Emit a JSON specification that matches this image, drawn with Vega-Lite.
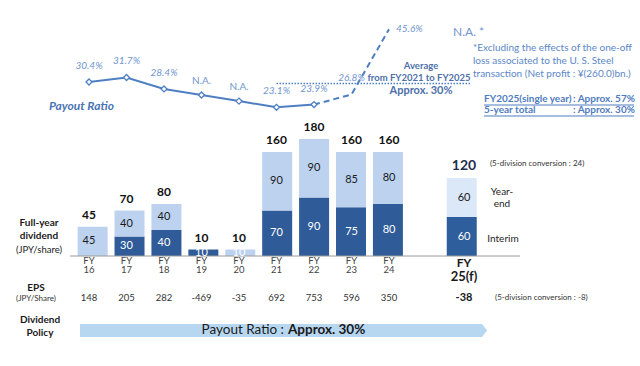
{
  "$schema": "https://vega.github.io/schema/vega-lite/v6.json",
  "width": 640,
  "height": 366,
  "autosize": {"type": "fit", "contains": "padding"},
  "padding": 0,
  "background": "white",
  "config": {"view": {"stroke": null}, "text": {"font": "Lato"}},
  "datasets": {
    "bars": [
      {"fy": "16", "slot": 0, "part": "Year-end", "v": 45},
      {"fy": "17", "slot": 1, "part": "Interim", "v": 30},
      {"fy": "17", "slot": 1, "part": "Year-end", "v": 40},
      {"fy": "18", "slot": 2, "part": "Interim", "v": 40},
      {"fy": "18", "slot": 2, "part": "Year-end", "v": 40},
      {"fy": "19", "slot": 3, "part": "Interim", "v": 10},
      {"fy": "20", "slot": 4, "part": "Year-end", "v": 10},
      {"fy": "21", "slot": 5, "part": "Interim", "v": 70},
      {"fy": "21", "slot": 5, "part": "Year-end", "v": 90},
      {"fy": "22", "slot": 6, "part": "Interim", "v": 90},
      {"fy": "22", "slot": 6, "part": "Year-end", "v": 90},
      {"fy": "23", "slot": 7, "part": "Interim", "v": 75},
      {"fy": "23", "slot": 7, "part": "Year-end", "v": 85},
      {"fy": "24", "slot": 8, "part": "Interim", "v": 80},
      {"fy": "24", "slot": 8, "part": "Year-end", "v": 80},
      {"fy": "25(f)", "slot": 10, "part": "Interim (f)", "v": 60},
      {"fy": "25(f)", "slot": 10, "part": "Year-end (f)", "v": 60}
    ],
    "eps": [
      {"fy": "16", "slot": 0, "eps": 148},
      {"fy": "17", "slot": 1, "eps": 205},
      {"fy": "18", "slot": 2, "eps": 282},
      {"fy": "19", "slot": 3, "eps": -469},
      {"fy": "20", "slot": 4, "eps": -35},
      {"fy": "21", "slot": 5, "eps": 692},
      {"fy": "22", "slot": 6, "eps": 753},
      {"fy": "23", "slot": 7, "eps": 596},
      {"fy": "24", "slot": 8, "eps": 350},
      {"fy": "25(f)", "slot": 10, "eps": -38}
    ],
    "pr": [
      {"fy": "16", "slot": 0, "plot": 30.4, "label": "30.4%"},
      {"fy": "17", "slot": 1, "plot": 31.7, "label": "31.7%"},
      {"fy": "18", "slot": 2, "plot": 28.4, "label": "28.4%"},
      {"fy": "19", "slot": 3, "plot": 26.65, "label": "N.A."},
      {"fy": "20", "slot": 4, "plot": 24.9, "label": "N.A."},
      {"fy": "21", "slot": 5, "plot": 23.1, "label": "23.1%"},
      {"fy": "22", "slot": 6, "plot": 23.9, "label": "23.9%"},
      {"fy": "23", "slot": 7, "plot": 26.8, "label": "26.8%"},
      {"fy": "24", "slot": 8, "plot": 45.6, "label": "45.6%"}
    ]
  },
  "resolve": {"scale": {"x": "independent", "y": "independent", "color": "independent"}},
  "layer": [
    {
      "data": {"values": [{"t": "Payout Ratio : Approx. 30%"}]},
      "mark": {"type": "rect", "color": "#b7d7f1"},
      "encoding": {
        "x": {"datum": -0.24, "type": "quantitative", "scale": {"domain": [-2.3733, 14.6933], "nice": false, "zero": false}, "axis": null},
        "x2": {"datum": 10.48},
        "y": {"datum": -104.6, "type": "quantitative", "scale": {"domain": [-169.23, 393.85], "nice": false, "zero": false}, "axis": null},
        "y2": {"datum": -124.6}
      }
    },
    {
      "data": {"values": [{"t": "tip"}]},
      "mark": {"type": "point", "shape": "M -0.4 -1 L 0 -1 L 0.8 0 L 0 1 L -0.4 1 Z", "filled": true, "color": "#b7d7f1", "opacity": 1, "size": 169},
      "encoding": {
        "x": {"datum": 10.48, "type": "quantitative", "scale": {"domain": [-2.3733, 14.6933], "nice": false, "zero": false}, "axis": null},
        "y": {"datum": -114.6, "type": "quantitative", "scale": {"domain": [-169.23, 393.85], "nice": false, "zero": false}, "axis": null}
      }
    },
    {
      "data": {"values": [{"t": "Payout Ratio :"}]},
      "mark": {"type": "text", "align": "right", "baseline": "middle", "fontSize": 13.5, "color": "#1a1a1a"},
      "encoding": {
        "text": {"field": "t"},
        "x": {"datum": 5.2, "type": "quantitative", "scale": {"domain": [-2.3733, 14.6933], "nice": false, "zero": false}, "axis": null},
        "y": {"datum": -113.8, "type": "quantitative", "scale": {"domain": [-169.23, 393.85], "nice": false, "zero": false}, "axis": null}
      }
    },
    {
      "data": {"values": [{"t": "Approx. 30%"}]},
      "mark": {"type": "text", "align": "left", "baseline": "middle", "fontSize": 13.5, "fontWeight": "bold", "color": "#1a1a1a"},
      "encoding": {
        "text": {"field": "t"},
        "x": {"datum": 5.307, "type": "quantitative", "scale": {"domain": [-2.3733, 14.6933], "nice": false, "zero": false}, "axis": null},
        "y": {"datum": -113.8, "type": "quantitative", "scale": {"domain": [-169.23, 393.85], "nice": false, "zero": false}, "axis": null}
      }
    },
    {
      "data": {"values": [{"t": "Dividend"}]},
      "mark": {"type": "text", "align": "center", "baseline": "middle", "fontSize": 10, "fontWeight": "bold", "color": "#1a1a1a"},
      "encoding": {
        "text": {"field": "t"},
        "x": {"datum": -1.307, "type": "quantitative", "scale": {"domain": [-2.3733, 14.6933], "nice": false, "zero": false}, "axis": null},
        "y": {"datum": -98.5, "type": "quantitative", "scale": {"domain": [-169.23, 393.85], "nice": false, "zero": false}, "axis": null}
      }
    },
    {
      "data": {"values": [{"t": "Policy"}]},
      "mark": {"type": "text", "align": "center", "baseline": "middle", "fontSize": 10, "fontWeight": "bold", "color": "#1a1a1a"},
      "encoding": {
        "text": {"field": "t"},
        "x": {"datum": -1.307, "type": "quantitative", "scale": {"domain": [-2.3733, 14.6933], "nice": false, "zero": false}, "axis": null},
        "y": {"datum": -118.5, "type": "quantitative", "scale": {"domain": [-169.23, 393.85], "nice": false, "zero": false}, "axis": null}
      }
    },
    {
      "data": {"values": [{"t": "EPS"}]},
      "mark": {"type": "text", "align": "center", "baseline": "middle", "fontSize": 10, "fontWeight": "bold", "color": "#1a1a1a"},
      "encoding": {
        "text": {"field": "t"},
        "x": {"datum": -1.413, "type": "quantitative", "scale": {"domain": [-2.3733, 14.6933], "nice": false, "zero": false}, "axis": null},
        "y": {"datum": -49.2, "type": "quantitative", "scale": {"domain": [-169.23, 393.85], "nice": false, "zero": false}, "axis": null}
      }
    },
    {
      "data": {"values": [{"t": "(JPY/Share)"}]},
      "mark": {"type": "text", "align": "center", "baseline": "middle", "fontSize": 8, "color": "#333333"},
      "encoding": {
        "text": {"field": "t"},
        "x": {"datum": -1.413, "type": "quantitative", "scale": {"domain": [-2.3733, 14.6933], "nice": false, "zero": false}, "axis": null},
        "y": {"datum": -66.2, "type": "quantitative", "scale": {"domain": [-169.23, 393.85], "nice": false, "zero": false}, "axis": null}
      }
    },
    {
      "data": {"name": "eps"},
      "transform": [{"filter": "datum.slot < 10"}],
      "mark": {"type": "text", "align": "center", "baseline": "middle", "fontSize": 9.5, "color": "#333333"},
      "encoding": {
        "text": {"field": "eps", "type": "nominal"},
        "x": {"field": "slot", "type": "quantitative", "scale": {"domain": [-2.3733, 14.6933], "nice": false, "zero": false}, "axis": null},
        "y": {"datum": -64.6, "type": "quantitative", "scale": {"domain": [-169.23, 393.85], "nice": false, "zero": false}, "axis": null}
      }
    },
    {
      "data": {"name": "eps"},
      "transform": [{"filter": "datum.slot == 10"}],
      "mark": {"type": "text", "align": "center", "baseline": "middle", "fontSize": 11, "fontWeight": "bold", "color": "#1a1a1a"},
      "encoding": {
        "text": {"field": "eps", "type": "nominal"},
        "x": {"field": "slot", "type": "quantitative", "scale": {"domain": [-2.3733, 14.6933], "nice": false, "zero": false}, "axis": null},
        "y": {"datum": -64.6, "type": "quantitative", "scale": {"domain": [-169.23, 393.85], "nice": false, "zero": false}, "axis": null}
      }
    },
    {
      "data": {"values": [{"t": "(5-division conversion : -8)"}]},
      "mark": {"type": "text", "align": "left", "baseline": "middle", "fontSize": 8, "color": "#333333"},
      "encoding": {
        "text": {"field": "t"},
        "x": {"datum": 10.827, "type": "quantitative", "scale": {"domain": [-2.3733, 14.6933], "nice": false, "zero": false}, "axis": null},
        "y": {"datum": -64.6, "type": "quantitative", "scale": {"domain": [-169.23, 393.85], "nice": false, "zero": false}, "axis": null}
      }
    },
    {
      "data": {"name": "bars"},
      "mark": {"type": "bar", "width": 30},
      "encoding": {
        "x": {"field": "slot", "type": "quantitative", "scale": {"domain": [-2.3733, 14.6933], "nice": false, "zero": false}, "axis": null},
        "y": {"field": "v", "type": "quantitative", "stack": "zero", "scale": {"domain": [-169.23, 393.85], "nice": false, "zero": false}, "axis": null},
        "color": {"field": "part", "type": "nominal", "legend": null, "scale": {"domain": ["Interim", "Year-end", "Interim (f)", "Year-end (f)"], "range": ["#2f5b98", "#bcd2ef", "#2f5e9c", "#dbe8f7"]}},
        "order": {"field": "part", "sort": "ascending"}
      }
    },
    {
      "data": {"values": [{"t": "baseline"}]},
      "mark": {"type": "rule", "color": "#9a9a9a", "strokeWidth": 1},
      "encoding": {
        "x": {"datum": -0.507, "type": "quantitative", "scale": {"domain": [-2.3733, 14.6933], "nice": false, "zero": false}, "axis": null},
        "x2": {"datum": 11.493},
        "y": {"datum": 0, "type": "quantitative", "scale": {"domain": [-169.23, 393.85], "nice": false, "zero": false}, "axis": null}
      }
    },
    {
      "data": {"name": "bars"},
      "transform": [
        {"stack": "v", "groupby": ["slot"], "sort": [{"field": "part", "order": "ascending"}], "as": ["v0", "v1"]},
        {"fold": ["v0", "v1"], "as": ["edge", "ev"]},
        {"aggregate": [{"op": "mean", "field": "ev", "as": "mid"}], "groupby": ["slot", "part", "v"]},
        {"filter": "indexof(datum.part, 'Interim') == 0 || datum.slot == 4"}
      ],
      "mark": {"type": "text", "align": "center", "baseline": "middle", "fontSize": 11, "color": "#ffffff"},
      "encoding": {
        "text": {"field": "v", "type": "nominal"},
        "x": {"field": "slot", "type": "quantitative", "scale": {"domain": [-2.3733, 14.6933], "nice": false, "zero": false}, "axis": null},
        "y": {"field": "mid", "type": "quantitative", "scale": {"domain": [-169.23, 393.85], "nice": false, "zero": false}, "axis": null}
      }
    },
    {
      "data": {"name": "bars"},
      "transform": [
        {"stack": "v", "groupby": ["slot"], "sort": [{"field": "part", "order": "ascending"}], "as": ["v0", "v1"]},
        {"fold": ["v0", "v1"], "as": ["edge", "ev"]},
        {"aggregate": [{"op": "mean", "field": "ev", "as": "mid"}], "groupby": ["slot", "part", "v"]},
        {"filter": "indexof(datum.part, 'Year-end') == 0 && datum.slot != 4"}
      ],
      "mark": {"type": "text", "align": "center", "baseline": "middle", "fontSize": 11, "color": "#1a1a1a"},
      "encoding": {
        "text": {"field": "v", "type": "nominal"},
        "x": {"field": "slot", "type": "quantitative", "scale": {"domain": [-2.3733, 14.6933], "nice": false, "zero": false}, "axis": null},
        "y": {"field": "mid", "type": "quantitative", "scale": {"domain": [-169.23, 393.85], "nice": false, "zero": false}, "axis": null}
      }
    },
    {
      "data": {"name": "bars"},
      "transform": [
        {"filter": "datum.slot < 10"},
        {"aggregate": [{"op": "sum", "field": "v", "as": "total"}], "groupby": ["slot"]}
      ],
      "mark": {"type": "text", "align": "center", "baseline": "middle", "fontSize": 12, "fontWeight": "bold", "color": "#111111", "dy": -12},
      "encoding": {
        "text": {"field": "total", "type": "nominal"},
        "x": {"field": "slot", "type": "quantitative", "scale": {"domain": [-2.3733, 14.6933], "nice": false, "zero": false}, "axis": null},
        "y": {"field": "total", "type": "quantitative", "scale": {"domain": [-169.23, 393.85], "nice": false, "zero": false}, "axis": null}
      }
    },
    {
      "data": {"name": "bars"},
      "transform": [
        {"filter": "datum.slot == 10"},
        {"aggregate": [{"op": "sum", "field": "v", "as": "total"}], "groupby": ["slot"]}
      ],
      "mark": {"type": "text", "align": "center", "baseline": "middle", "fontSize": 14, "fontWeight": "bold", "color": "#1f2d4d", "dy": -12},
      "encoding": {
        "text": {"field": "total", "type": "nominal"},
        "x": {"field": "slot", "type": "quantitative", "scale": {"domain": [-2.3733, 14.6933], "nice": false, "zero": false}, "axis": null},
        "y": {"field": "total", "type": "quantitative", "scale": {"domain": [-169.23, 393.85], "nice": false, "zero": false}, "axis": null}
      }
    },
    {
      "data": {"values": [{"t": "(5-division conversion : 24)"}]},
      "mark": {"type": "text", "align": "left", "baseline": "middle", "fontSize": 8, "color": "#333333"},
      "encoding": {
        "text": {"field": "t"},
        "x": {"datum": 10.693, "type": "quantitative", "scale": {"domain": [-2.3733, 14.6933], "nice": false, "zero": false}, "axis": null},
        "y": {"datum": 141.5, "type": "quantitative", "scale": {"domain": [-169.23, 393.85], "nice": false, "zero": false}, "axis": null}
      }
    },
    {
      "data": {"values": [{"t": "Year-"}]},
      "mark": {"type": "text", "align": "center", "baseline": "middle", "fontSize": 10, "color": "#222222"},
      "encoding": {
        "text": {"field": "t"},
        "x": {"datum": 11.013, "type": "quantitative", "scale": {"domain": [-2.3733, 14.6933], "nice": false, "zero": false}, "axis": null},
        "y": {"datum": 98.5, "type": "quantitative", "scale": {"domain": [-169.23, 393.85], "nice": false, "zero": false}, "axis": null}
      }
    },
    {
      "data": {"values": [{"t": "end"}]},
      "mark": {"type": "text", "align": "center", "baseline": "middle", "fontSize": 10, "color": "#222222"},
      "encoding": {
        "text": {"field": "t"},
        "x": {"datum": 11.013, "type": "quantitative", "scale": {"domain": [-2.3733, 14.6933], "nice": false, "zero": false}, "axis": null},
        "y": {"datum": 80.0, "type": "quantitative", "scale": {"domain": [-169.23, 393.85], "nice": false, "zero": false}, "axis": null}
      }
    },
    {
      "data": {"values": [{"t": "Interim"}]},
      "mark": {"type": "text", "align": "center", "baseline": "middle", "fontSize": 10, "color": "#222222"},
      "encoding": {
        "text": {"field": "t"},
        "x": {"datum": 11.04, "type": "quantitative", "scale": {"domain": [-2.3733, 14.6933], "nice": false, "zero": false}, "axis": null},
        "y": {"datum": 26.2, "type": "quantitative", "scale": {"domain": [-169.23, 393.85], "nice": false, "zero": false}, "axis": null}
      }
    },
    {
      "data": {"name": "eps"},
      "transform": [{"filter": "datum.slot < 10"}],
      "mark": {"type": "text", "text": "FY", "align": "center", "baseline": "middle", "fontSize": 9.5, "color": "#444444", "dy": 5},
      "encoding": {
        "x": {"field": "slot", "type": "quantitative", "scale": {"domain": [-2.3733, 14.6933], "nice": false, "zero": false}, "axis": null},
        "y": {"datum": 0, "type": "quantitative", "scale": {"domain": [-169.23, 393.85], "nice": false, "zero": false}, "axis": null}
      }
    },
    {
      "data": {"name": "eps"},
      "transform": [{"filter": "datum.slot < 10"}],
      "mark": {"type": "text", "align": "center", "baseline": "middle", "fontSize": 9.5, "color": "#444444", "dy": 14},
      "encoding": {
        "text": {"field": "fy", "type": "nominal"},
        "x": {"field": "slot", "type": "quantitative", "scale": {"domain": [-2.3733, 14.6933], "nice": false, "zero": false}, "axis": null},
        "y": {"datum": 0, "type": "quantitative", "scale": {"domain": [-169.23, 393.85], "nice": false, "zero": false}, "axis": null}
      }
    },
    {
      "data": {"name": "eps"},
      "transform": [{"filter": "datum.slot == 10"}],
      "mark": {"type": "text", "text": "FY", "align": "center", "baseline": "middle", "fontSize": 12, "fontWeight": "bold", "color": "#1a1a1a", "dy": 7},
      "encoding": {
        "x": {"field": "slot", "type": "quantitative", "scale": {"domain": [-2.3733, 14.6933], "nice": false, "zero": false}, "axis": null},
        "y": {"datum": 0, "type": "quantitative", "scale": {"domain": [-169.23, 393.85], "nice": false, "zero": false}, "axis": null}
      }
    },
    {
      "data": {"name": "eps"},
      "transform": [{"filter": "datum.slot == 10"}],
      "mark": {"type": "text", "align": "center", "baseline": "middle", "fontSize": 13, "fontWeight": "bold", "color": "#1a1a1a", "dy": 21},
      "encoding": {
        "text": {"field": "fy", "type": "nominal"},
        "x": {"field": "slot", "type": "quantitative", "scale": {"domain": [-2.3733, 14.6933], "nice": false, "zero": false}, "axis": null},
        "y": {"datum": 0, "type": "quantitative", "scale": {"domain": [-169.23, 393.85], "nice": false, "zero": false}, "axis": null}
      }
    },
    {
      "data": {"values": [{"t": "Full-year"}]},
      "mark": {"type": "text", "align": "center", "baseline": "middle", "fontSize": 10, "fontWeight": "bold", "color": "#1a1a1a"},
      "encoding": {
        "text": {"field": "t"},
        "x": {"datum": -1.333, "type": "quantitative", "scale": {"domain": [-2.3733, 14.6933], "nice": false, "zero": false}, "axis": null},
        "y": {"datum": 50.8, "type": "quantitative", "scale": {"domain": [-169.23, 393.85], "nice": false, "zero": false}, "axis": null}
      }
    },
    {
      "data": {"values": [{"t": "dividend"}]},
      "mark": {"type": "text", "align": "center", "baseline": "middle", "fontSize": 10, "fontWeight": "bold", "color": "#1a1a1a"},
      "encoding": {
        "text": {"field": "t"},
        "x": {"datum": -1.333, "type": "quantitative", "scale": {"domain": [-2.3733, 14.6933], "nice": false, "zero": false}, "axis": null},
        "y": {"datum": 30.8, "type": "quantitative", "scale": {"domain": [-169.23, 393.85], "nice": false, "zero": false}, "axis": null}
      }
    },
    {
      "data": {"values": [{"t": "(JPY/share)"}]},
      "mark": {"type": "text", "align": "center", "baseline": "middle", "fontSize": 9.5, "color": "#222222"},
      "encoding": {
        "text": {"field": "t"},
        "x": {"datum": -1.333, "type": "quantitative", "scale": {"domain": [-2.3733, 14.6933], "nice": false, "zero": false}, "axis": null},
        "y": {"datum": 9.2, "type": "quantitative", "scale": {"domain": [-169.23, 393.85], "nice": false, "zero": false}, "axis": null}
      }
    },
    {
      "data": {"values": [{"t": "average"}]},
      "mark": {"type": "rule", "color": "#4f7fc3", "strokeWidth": 1.5, "strokeDash": [1.5, 1.5]},
      "encoding": {
        "x": {"datum": 5.0, "type": "quantitative", "scale": {"domain": [-2.3733, 14.6933], "nice": false, "zero": false}, "axis": null},
        "x2": {"datum": 10.2},
        "y": {"datum": 30, "type": "quantitative", "scale": {"domain": [-51.44, 54.03], "nice": false, "zero": false}, "axis": null}
      }
    },
    {
      "data": {"name": "pr"},
      "transform": [{"filter": "datum.slot <= 6"}],
      "mark": {"type": "line", "color": "#4f7fc3", "strokeWidth": 2},
      "encoding": {
        "x": {"field": "slot", "type": "quantitative", "scale": {"domain": [-2.3733, 14.6933], "nice": false, "zero": false}, "axis": null},
        "y": {"field": "plot", "type": "quantitative", "scale": {"domain": [-51.44, 54.03], "nice": false, "zero": false}, "axis": null}
      }
    },
    {
      "data": {"name": "pr"},
      "transform": [{"filter": "datum.slot >= 6"}],
      "mark": {"type": "line", "color": "#4f7fc3", "strokeWidth": 2, "strokeDash": [6, 4]},
      "encoding": {
        "x": {"field": "slot", "type": "quantitative", "scale": {"domain": [-2.3733, 14.6933], "nice": false, "zero": false}, "axis": null},
        "y": {"field": "plot", "type": "quantitative", "scale": {"domain": [-51.44, 54.03], "nice": false, "zero": false}, "axis": null}
      }
    },
    {
      "data": {"name": "pr"},
      "transform": [{"filter": "datum.slot <= 6"}],
      "mark": {"type": "point", "shape": "diamond", "filled": true, "fill": "white", "stroke": "#4f7fc3", "strokeWidth": 1.3, "size": 36, "opacity": 1},
      "encoding": {
        "x": {"field": "slot", "type": "quantitative", "scale": {"domain": [-2.3733, 14.6933], "nice": false, "zero": false}, "axis": null},
        "y": {"field": "plot", "type": "quantitative", "scale": {"domain": [-51.44, 54.03], "nice": false, "zero": false}, "axis": null}
      }
    },
    {
      "data": {"name": "pr"},
      "transform": [{"filter": "datum.slot <= 7 && datum.label != 'N.A.'"}],
      "mark": {"type": "text", "align": "center", "baseline": "middle", "fontSize": 10, "fontStyle": "italic", "color": "#7094cd", "dy": -16},
      "encoding": {
        "text": {"field": "label", "type": "nominal"},
        "x": {"field": "slot", "type": "quantitative", "scale": {"domain": [-2.3733, 14.6933], "nice": false, "zero": false}, "axis": null},
        "y": {"field": "plot", "type": "quantitative", "scale": {"domain": [-51.44, 54.03], "nice": false, "zero": false}, "axis": null}
      }
    },
    {
      "data": {"name": "pr"},
      "transform": [{"filter": "datum.label == 'N.A.'"}],
      "mark": {"type": "text", "align": "center", "baseline": "middle", "fontSize": 10, "color": "#7094cd", "dy": -14},
      "encoding": {
        "text": {"field": "label", "type": "nominal"},
        "x": {"field": "slot", "type": "quantitative", "scale": {"domain": [-2.3733, 14.6933], "nice": false, "zero": false}, "axis": null},
        "y": {"field": "plot", "type": "quantitative", "scale": {"domain": [-51.44, 54.03], "nice": false, "zero": false}, "axis": null}
      }
    },
    {
      "data": {"name": "pr"},
      "transform": [{"filter": "datum.slot == 8"}],
      "mark": {"type": "text", "align": "left", "baseline": "middle", "fontSize": 10, "fontStyle": "italic", "color": "#7094cd", "dx": 7},
      "encoding": {
        "text": {"field": "label", "type": "nominal"},
        "x": {"field": "slot", "type": "quantitative", "scale": {"domain": [-2.3733, 14.6933], "nice": false, "zero": false}, "axis": null},
        "y": {"field": "plot", "type": "quantitative", "scale": {"domain": [-51.44, 54.03], "nice": false, "zero": false}, "axis": null}
      }
    },
    {
      "data": {"values": [{"t": "N.A. *"}]},
      "mark": {"type": "text", "align": "left", "baseline": "middle", "fontSize": 12, "color": "#7094cd"},
      "encoding": {
        "text": {"field": "t"},
        "x": {"datum": 9.707, "type": "quantitative", "scale": {"domain": [-2.3733, 14.6933], "nice": false, "zero": false}, "axis": null},
        "y": {"datum": 344.6, "type": "quantitative", "scale": {"domain": [-169.23, 393.85], "nice": false, "zero": false}, "axis": null}
      }
    },
    {
      "data": {"values": [{"t": "Payout Ratio"}]},
      "mark": {"type": "text", "align": "left", "baseline": "middle", "fontSize": 12, "fontWeight": "bold", "fontStyle": "italic", "color": "#4a74b4"},
      "encoding": {
        "text": {"field": "t"},
        "x": {"datum": -1.067, "type": "quantitative", "scale": {"domain": [-2.3733, 14.6933], "nice": false, "zero": false}, "axis": null},
        "y": {"datum": 230.8, "type": "quantitative", "scale": {"domain": [-169.23, 393.85], "nice": false, "zero": false}, "axis": null}
      }
    },
    {
      "data": {"values": [{"t": "Average"}]},
      "mark": {"type": "text", "align": "center", "baseline": "middle", "fontSize": 9.5, "fontWeight": "bold", "color": "#4d70a9"},
      "encoding": {
        "text": {"field": "t"},
        "x": {"datum": 8.853, "type": "quantitative", "scale": {"domain": [-2.3733, 14.6933], "nice": false, "zero": false}, "axis": null},
        "y": {"datum": 292.3, "type": "quantitative", "scale": {"domain": [-169.23, 393.85], "nice": false, "zero": false}, "axis": null}
      }
    },
    {
      "data": {"values": [{"t": "from FY2021 to FY2025"}]},
      "mark": {"type": "text", "align": "center", "baseline": "middle", "fontSize": 9.5, "fontWeight": "bold", "color": "#4d70a9"},
      "encoding": {
        "text": {"field": "t"},
        "x": {"datum": 8.8, "type": "quantitative", "scale": {"domain": [-2.3733, 14.6933], "nice": false, "zero": false}, "axis": null},
        "y": {"datum": 273.8, "type": "quantitative", "scale": {"domain": [-169.23, 393.85], "nice": false, "zero": false}, "axis": null}
      }
    },
    {
      "data": {"values": [{"t": "Approx. 30%"}]},
      "mark": {"type": "text", "align": "center", "baseline": "middle", "fontSize": 11, "fontWeight": "bold", "color": "#4d70a9"},
      "encoding": {
        "text": {"field": "t"},
        "x": {"datum": 8.853, "type": "quantitative", "scale": {"domain": [-2.3733, 14.6933], "nice": false, "zero": false}, "axis": null},
        "y": {"datum": 253.8, "type": "quantitative", "scale": {"domain": [-169.23, 393.85], "nice": false, "zero": false}, "axis": null}
      }
    },
    {
      "data": {"values": [{"t": "*Excluding the effects of the one-off"}]},
      "mark": {"type": "text", "align": "left", "baseline": "middle", "fontSize": 10, "color": "#5b87c8"},
      "encoding": {
        "text": {"field": "t"},
        "x": {"datum": 10.24, "type": "quantitative", "scale": {"domain": [-2.3733, 14.6933], "nice": false, "zero": false}, "axis": null},
        "y": {"datum": 320.0, "type": "quantitative", "scale": {"domain": [-169.23, 393.85], "nice": false, "zero": false}, "axis": null}
      }
    },
    {
      "data": {"values": [{"t": "loss associated to the U. S. Steel"}]},
      "mark": {"type": "text", "align": "left", "baseline": "middle", "fontSize": 10, "color": "#5b87c8"},
      "encoding": {
        "text": {"field": "t"},
        "x": {"datum": 10.24, "type": "quantitative", "scale": {"domain": [-2.3733, 14.6933], "nice": false, "zero": false}, "axis": null},
        "y": {"datum": 300.0, "type": "quantitative", "scale": {"domain": [-169.23, 393.85], "nice": false, "zero": false}, "axis": null}
      }
    },
    {
      "data": {"values": [{"t": "transaction (Net profit : ¥(260.0)bn.)"}]},
      "mark": {"type": "text", "align": "left", "baseline": "middle", "fontSize": 10, "color": "#5b87c8"},
      "encoding": {
        "text": {"field": "t"},
        "x": {"datum": 10.24, "type": "quantitative", "scale": {"domain": [-2.3733, 14.6933], "nice": false, "zero": false}, "axis": null},
        "y": {"datum": 280.0, "type": "quantitative", "scale": {"domain": [-169.23, 393.85], "nice": false, "zero": false}, "axis": null}
      }
    },
    {
      "data": {"values": [{"t": "FY2025(single year)"}]},
      "mark": {"type": "text", "align": "left", "baseline": "middle", "fontSize": 10, "fontWeight": "bold", "color": "#4f7bc0"},
      "encoding": {
        "text": {"field": "t"},
        "x": {"datum": 10.533, "type": "quantitative", "scale": {"domain": [-2.3733, 14.6933], "nice": false, "zero": false}, "axis": null},
        "y": {"datum": 241.5, "type": "quantitative", "scale": {"domain": [-169.23, 393.85], "nice": false, "zero": false}, "axis": null}
      }
    },
    {
      "data": {"values": [{"t": ": Approx. 57%"}]},
      "mark": {"type": "text", "align": "left", "baseline": "middle", "fontSize": 10, "fontWeight": "bold", "color": "#4f7bc0"},
      "encoding": {
        "text": {"field": "t"},
        "x": {"datum": 12.907, "type": "quantitative", "scale": {"domain": [-2.3733, 14.6933], "nice": false, "zero": false}, "axis": null},
        "y": {"datum": 241.5, "type": "quantitative", "scale": {"domain": [-169.23, 393.85], "nice": false, "zero": false}, "axis": null}
      }
    },
    {
      "data": {"values": [{"t": "5-year total"}]},
      "mark": {"type": "text", "align": "left", "baseline": "middle", "fontSize": 10, "fontWeight": "bold", "color": "#4f7bc0"},
      "encoding": {
        "text": {"field": "t"},
        "x": {"datum": 10.533, "type": "quantitative", "scale": {"domain": [-2.3733, 14.6933], "nice": false, "zero": false}, "axis": null},
        "y": {"datum": 224.6, "type": "quantitative", "scale": {"domain": [-169.23, 393.85], "nice": false, "zero": false}, "axis": null}
      }
    },
    {
      "data": {"values": [{"t": ": Approx. 30%"}]},
      "mark": {"type": "text", "align": "left", "baseline": "middle", "fontSize": 10, "fontWeight": "bold", "color": "#4f7bc0"},
      "encoding": {
        "text": {"field": "t"},
        "x": {"datum": 12.907, "type": "quantitative", "scale": {"domain": [-2.3733, 14.6933], "nice": false, "zero": false}, "axis": null},
        "y": {"datum": 224.6, "type": "quantitative", "scale": {"domain": [-169.23, 393.85], "nice": false, "zero": false}, "axis": null}
      }
    },
    {
      "data": {"values": [{"t": "underline 1"}]},
      "mark": {"type": "rule", "color": "#4f7bc0", "strokeWidth": 1},
      "encoding": {
        "x": {"datum": 10.533, "type": "quantitative", "scale": {"domain": [-2.3733, 14.6933], "nice": false, "zero": false}, "axis": null},
        "x2": {"datum": 14.533},
        "y": {"datum": 232.3, "type": "quantitative", "scale": {"domain": [-169.23, 393.85], "nice": false, "zero": false}, "axis": null}
      }
    },
    {
      "data": {"values": [{"t": "underline 2"}]},
      "mark": {"type": "rule", "color": "#4f7bc0", "strokeWidth": 1},
      "encoding": {
        "x": {"datum": 10.533, "type": "quantitative", "scale": {"domain": [-2.3733, 14.6933], "nice": false, "zero": false}, "axis": null},
        "x2": {"datum": 14.533},
        "y": {"datum": 215.4, "type": "quantitative", "scale": {"domain": [-169.23, 393.85], "nice": false, "zero": false}, "axis": null}
      }
    }
  ]
}
